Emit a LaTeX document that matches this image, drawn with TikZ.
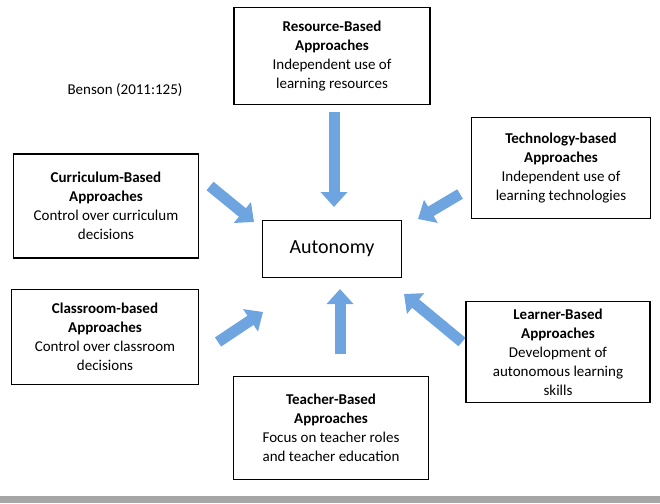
\documentclass[tikz,border=0pt]{standalone}
\usepackage{fontspec}
\setmainfont{Carlito}
\usetikzlibrary{arrows.meta}
\begin{document}
\begin{tikzpicture}[x=1pt,y=-1pt,
 box/.style={draw,line width=1.1pt,align=center,font=\fontsize{15}{19}\selectfont,inner sep=0pt},
 blk/.style={line width=11pt,draw={rgb,255:red,110;green,165;blue,225},-{Triangle[width=26pt,length=15pt]},shorten >=0pt}]
\useasboundingbox (0,0) rectangle (660,503);
\fill[gray!70] (0,496) rectangle (660,503);
\node[box,minimum width=196,minimum height=97] (res) at (332,56) {\textbf{Resource-Based}\\\textbf{Approaches}\\Independent use of\\learning resources};
\node[box,minimum width=179,minimum height=101] (tech) at (561,168) {\textbf{Technology-based}\\\textbf{Approaches}\\Independent use of\\learning technologies};
\node[box,minimum width=185,minimum height=104] (cur) at (106,206) {\textbf{Curriculum-Based}\\\textbf{Approaches}\\Control over curriculum\\decisions};
\node[box,minimum width=139,minimum height=57,font=\fontsize{20}{22}\selectfont] (aut) at (332,249) {Autonomy};
\node[box,minimum width=187,minimum height=95] (cls) at (105,337) {\textbf{Classroom-based}\\\textbf{Approaches}\\Control over classroom\\decisions};
\node[box,minimum width=184,minimum height=101] (lrn) at (558,352) {\textbf{Learner-Based}\\\textbf{Approaches}\\Development of\\autonomous learning\\skills};
\node[box,minimum width=195,minimum height=103] (tea) at (331,428) {\textbf{Teacher-Based}\\\textbf{Approaches}\\Focus on teacher roles\\and teacher education};
\node[font=\fontsize{15}{19}\selectfont] (ben) at (125,90) {Benson (2011:125)};
\coordinate (a1) at (334,112); \coordinate (b1) at (334,207);
\coordinate (a2) at (210,186); \coordinate (b2) at (254,222);
\coordinate (a3) at (460,194); \coordinate (b3) at (418,219);
\coordinate (a4) at (218,342); \coordinate (b4) at (263,312);
\coordinate (a5) at (340,354); \coordinate (b5) at (340,289);
\coordinate (a6) at (462,342); \coordinate (b6) at (404,294);
\foreach \i in {1,...,6} \draw[blk] (a\i) -- (b\i);
\end{tikzpicture}
\end{document}
